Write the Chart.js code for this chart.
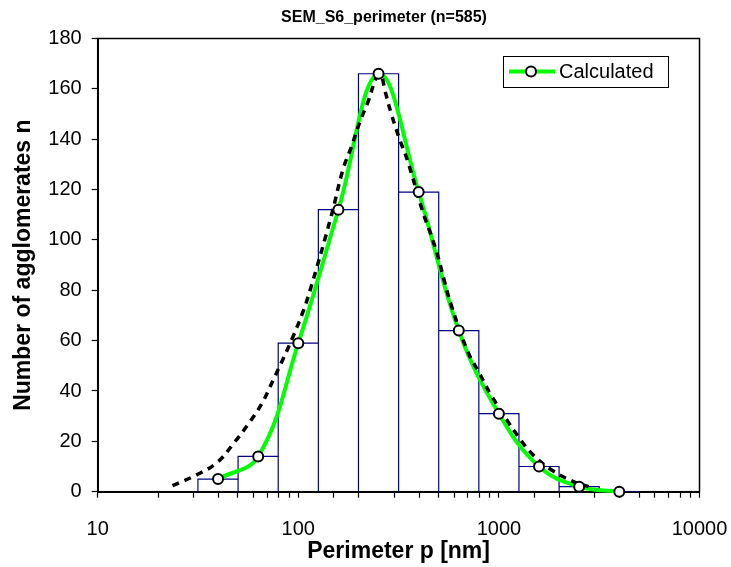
<!DOCTYPE html>
<html>
<head>
<meta charset="utf-8">
<script src="https://cdn.jsdelivr.net/npm/chart.js@4.4.0/dist/chart.umd.min.js"></script>
<style>
  body { margin: 0; background: #fff; }
  #wrap { width: 731px; height: 567px; }
</style>
</head>
<body>
<div id="wrap"><canvas id="grafico" width="731" height="567"></canvas></div>
<script>
// histogram bins (nm) and counts
const binEdges = [31.6, 50.1, 79.4, 125.9, 199.5, 316.2, 501.2, 794.3, 1258.9, 1995.3, 3162.3, 5011.9];
const binCounts = [5, 14, 59, 112, 166, 119, 64, 31, 10, 2, 0];

// "Calculated" points at bin centres
const calcX = [39.8, 63.1, 100, 158.5, 251.2, 398.1, 631.0, 1000, 1584.9, 2511.9, 3981.1];
const calcY = [5, 14, 59, 112, 166, 119, 64, 31, 10, 2, 0];

// dashed fit curve
const fitX = [23.6, 31, 39.4, 47.7, 56.5, 65.8, 74.6, 84.3, 94.6, 105, 114.5, 146, 167, 184, 203, 223, 245, 258, 270, 291, 320, 352, 418, 459, 496, 535, 577, 698, 798, 912, 1250, 1483, 1832, 2350, 2800];
const fitY = [2.4, 6.6, 11.6, 19.3, 27, 35, 44, 53, 62, 71, 80, 109.5, 128, 137, 147, 155, 164.5, 165.5, 159.5, 150, 140, 131, 111, 102, 93.6, 83.6, 74.4, 55.8, 47.2, 38.5, 21.8, 14.6, 8.6, 4, 2];

const xTickLabels = [10, 100, 1000, 10000];

const fonte = "'Liberation Sans', Arial, sans-serif";

// outline of the histogram bars, traced as one path
function contornoBarras() {
    const pts = [];
    binCounts.forEach((c, i) => {
        pts.push({ x: binEdges[i], y: 0 });
        pts.push({ x: binEdges[i], y: c });
        pts.push({ x: binEdges[i + 1], y: c });
        pts.push({ x: binEdges[i + 1], y: 0 });
    });
    return pts;
}

const calcPts = calcX.map((x, i) => ({ x, y: calcY[i] }));
const fitPts = fitX.map((x, i) => ({ x, y: fitY[i] }));

const fundoBranco = {
    id: 'fundoBranco',
    beforeDraw(chart) {
        const c = chart.ctx;
        c.save();
        c.fillStyle = '#fff';
        c.fillRect(0, 0, chart.width, chart.height);
        c.restore();
    }
};

const moldura = {
    id: 'moldura',
    beforeDatasetsDraw(chart) {
        const a = chart.chartArea;
        const c = chart.ctx;
        c.save();
        c.strokeStyle = '#000';
        c.lineWidth = 1.5;
        c.strokeRect(a.left, a.top, a.right - a.left, a.bottom - a.top);
        c.restore();
    },
    afterDraw(chart) {
        const c = chart.ctx;
        c.save();
        // title
        c.fillStyle = '#000';
        c.font = 'bold 16px ' + fonte;
        c.textAlign = 'center';
        c.textBaseline = 'middle';
        c.fillText('SEM_S6_perimeter (n=585)', 384, 18);

        // legend
        const ds = chart.data.datasets[2];
        c.fillStyle = '#fff';
        c.fillRect(503.5, 56.5, 165, 31);
        c.strokeStyle = '#000';
        c.lineWidth = 1;
        c.strokeRect(503.5, 56.5, 165, 31);
        c.strokeStyle = ds.borderColor;
        c.lineWidth = 4;
        c.beginPath();
        c.moveTo(509, 71.5);
        c.lineTo(555, 71.5);
        c.stroke();
        c.beginPath();
        c.arc(531, 71.5, 5, 0, Math.PI * 2);
        c.fillStyle = '#fff';
        c.fill();
        c.strokeStyle = '#000';
        c.lineWidth = 2;
        c.stroke();
        c.fillStyle = '#000';
        c.font = '20px ' + fonte;
        c.textAlign = 'left';
        c.fillText('Calculated', 559, 72);
        c.restore();
    }
};

new Chart(document.getElementById('grafico'), {
    type: 'scatter',
    data: {
        datasets: [
            {
                label: 'Calculated points',
                data: calcPts,
                showLine: false,
                pointRadius: 5,
                pointBorderWidth: 2,
                pointBackgroundColor: '#fff',
                pointBorderColor: '#000',
                clip: false
            },
            {
                label: 'Fit',
                data: fitPts,
                showLine: true,
                borderColor: '#000',
                borderWidth: 3.5,
                borderDash: [7, 6],
                tension: 0.4,
                pointRadius: 0
            },
            {
                label: 'Calculated',
                data: calcPts,
                showLine: true,
                borderColor: '#00ff00',
                borderWidth: 4,
                tension: 0.4,
                pointRadius: 0,
                clip: false
            },
            {
                label: 'Histogram',
                data: contornoBarras(),
                showLine: true,
                borderColor: '#000080',
                borderWidth: 1.2,
                tension: 0,
                pointRadius: 0
            }
        ]
    },
    options: {
        responsive: false,
        animation: false,
        layout: { padding: { top: 38.5, right: 31.5, left: 0, bottom: 0 } },
        plugins: {
            legend: { display: false },
            title: { display: false },
            tooltip: { enabled: false }
        },
        scales: {
            x: {
                type: 'logarithmic',
                min: 10,
                max: 10000,
                afterFit(scale) {
                    scale.height = 75.3;
                    scale.paddingLeft = 0;
                    scale.paddingRight = 0;
                },
                border: { display: true, color: '#000', width: 2 },
                grid: { drawOnChartArea: false, drawTicks: true, tickLength: 6, color: '#000', tickWidth: 1.2 },
                ticks: {
                    autoSkip: false,
                    maxRotation: 0,
                    padding: 20,
                    color: '#000',
                    font: { family: fonte, size: 20 },
                    callback: v => xTickLabels.includes(Math.round(v)) && Math.abs(v - Math.round(v)) < 1e-6 ? String(Math.round(v)) : ''
                },
                title: {
                    display: true,
                    text: 'Perimeter p [nm]',
                    color: '#000',
                    font: { family: fonte, size: 23, weight: 'bold' },
                    padding: { top: 0, bottom: 2 }
                }
            },
            y: {
                min: 0,
                max: 180,
                afterFit(scale) {
                    scale.width = 97.7;
                    scale.paddingTop = 0;
                    scale.paddingBottom = 0;
                },
                border: { display: true, color: '#000', width: 2 },
                grid: { drawOnChartArea: false, drawTicks: true, tickLength: 6, color: '#000', tickWidth: 1.2 },
                ticks: {
                    stepSize: 20,
                    padding: 10,
                    color: '#000',
                    font: { family: fonte, size: 20 }
                },
                title: {
                    display: true,
                    text: 'Number of agglomerates n',
                    color: '#000',
                    font: { family: fonte, size: 23, weight: 'bold' },
                    padding: { top: 10, bottom: 0 }
                }
            }
        }
    },
    plugins: [fundoBranco, moldura]
});
</script>
</body>
</html>
